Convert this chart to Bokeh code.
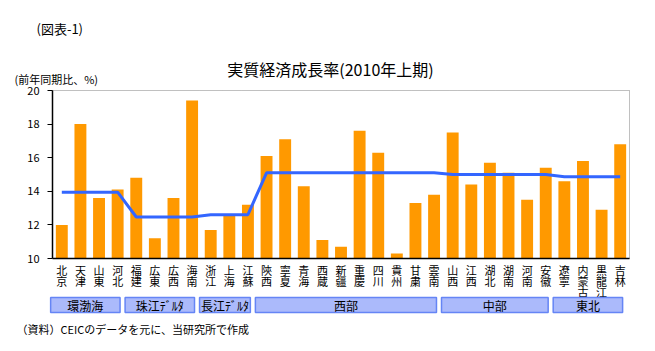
from bokeh.plotting import figure
from bokeh.models import Range1d, FixedTicker, LinearAxis, ColumnDataSource
from bokeh.core.properties import value
from bokeh.embed import file_html
from bokeh.resources import INLINE

# ---- data ----
categories = ["北京", "天津", "山東", "河北", "福建", "広東", "広西", "海南", "浙江", "上海",
              "江蘇", "陝西", "寧夏", "青海", "西蔵", "新疆", "重慶", "四川", "貴州", "甘粛",
              "雲南", "山西", "江西", "湖北", "湖南", "河南", "安徽", "遼寧", "内蒙古", "黒龍江", "吉林"]
growth = [12.0, 18.0, 13.6, 14.1, 14.8, 11.2, 13.6, 19.4, 11.7, 12.6,
          13.2, 16.1, 17.1, 14.3, 11.1, 10.7, 17.6, 16.3, 10.3, 13.3,
          13.8, 17.5, 14.4, 15.7, 15.1, 13.5, 15.4, 14.6, 15.8, 12.9, 16.8]
groups = ["環渤海", "珠江ﾃﾞﾙﾀ", "長江ﾃﾞﾙﾀ", "西部", "中部", "東北"]
group_sizes = [4, 4, 3, 10, 6, 4]
group_avg = [13.95, 12.47, 12.61, 15.1, 15.0, 14.86]
y_ticks = [10, 12, 14, 16, 18, 20]
y_min, y_max = 10, 20

FONT = "Noto Sans CJK JP"
W, H = 655, 351
FL, FR, FT, FB = 52, 629, 90, 258  # chart area edges in pixels

n = len(categories)
cw = (FR - FL) / n
sy = (FB - FT) / (y_max - y_min)

def X(px):
    return (px - FL) / cw

def Y(py):
    return y_min + (FB - py) / sy

xs = [i + 0.5 for i in range(n)]
line_y = []
for g, s in zip(group_avg, group_sizes):
    line_y += [g] * s

p = figure(width=W, height=H, output_backend="svg", toolbar_location=None,
           x_range=Range1d(X(0), X(W)), y_range=Range1d(Y(H), Y(0)),
           x_axis_location=None, y_axis_location=None,
           min_border=0, min_border_left=0, min_border_right=0,
           min_border_top=0, min_border_bottom=0)
p.background_fill_color = "white"
p.border_fill_color = "white"
p.outline_line_color = None
p.grid.visible = False

# dotted border on top and right of the chart area
p.line([0, n, n], [y_max, y_max, y_min], line_color="#808080", line_dash="1 1", line_width=1)

src = ColumnDataSource(dict(x=xs, y=growth))
p.vbar(x="x", top="y", bottom=y_min, width=0.64, source=src, color="#ff9900", line_color=None)
p.line(xs, line_y, line_color="#3366ff", line_width=3)

# axes drawn at fixed locations
yax = LinearAxis(fixed_location=0, bounds=(y_min, y_max), ticker=FixedTicker(ticks=y_ticks))
yax.axis_line_color = "black"
yax.axis_line_width = 1.5
yax.major_tick_out = 5
yax.major_tick_in = 0
yax.major_tick_line_color = "black"
yax.minor_tick_line_color = None
yax.major_label_text_font = FONT
yax.major_label_text_font_size = "11px"
yax.major_label_text_color = "black"
yax.major_label_standoff = 8
p.add_layout(yax, "left")

xax = LinearAxis(fixed_location=y_min, bounds=(0, n), ticker=FixedTicker(ticks=[]))
xax.axis_line_color = "black"
xax.axis_line_width = 1.5
xax.major_tick_out = 0
xax.major_tick_in = 0
xax.minor_tick_line_color = None
xax.major_label_text_font_size = "0px"
p.add_layout(xax, "below")

# category labels, written vertically (one character per line)
cx, cy, ct = [], [], []
for x, name in zip(xs, categories):
    for j, ch in enumerate(name):
        cx.append(x)
        cy.append(Y(269 + 11.3 * j))
        ct.append(ch)
p.text(x=cx, y=cy, text=ct, text_align="center", text_baseline="middle",
       text_font=value(FONT), text_font_size="11px", text_color="black")

# region boxes
lefts, rights, mids = [], [], []
start = 0
for size in group_sizes:
    l, r = start - 0.1, start + size - 0.37
    lefts.append(l)
    rights.append(r)
    mids.append((l + r) / 2)
    start += size
p.quad(left=lefts, right=rights, top=Y(297), bottom=Y(312),
       fill_color="#abbafb", line_color="#6585f5", line_width=1.5)
p.text(x=mids, y=[Y(304.5)] * len(mids), text=groups, text_align="center",
       text_baseline="middle", text_font=value(FONT), text_font_size="12px", text_color="black")

# titles and notes
def note(px, py, text, size, align="left"):
    p.text(x=[X(px)], y=[Y(py)], text=[text], text_align=align, text_baseline="middle",
           text_font=value(FONT), text_font_size=size, text_color="black")

note(36, 28, "(図表-1)", "13px")
note(330, 68, "実質経済成長率(2010年上期)", "16px", "center")
note(14, 78, "(前年同期比、%)", "11px")
note(16, 328, "（資料）CEICのデータを元に、当研究所で作成", "11px")

open("out.html", "w").write(file_html(p, INLINE))
